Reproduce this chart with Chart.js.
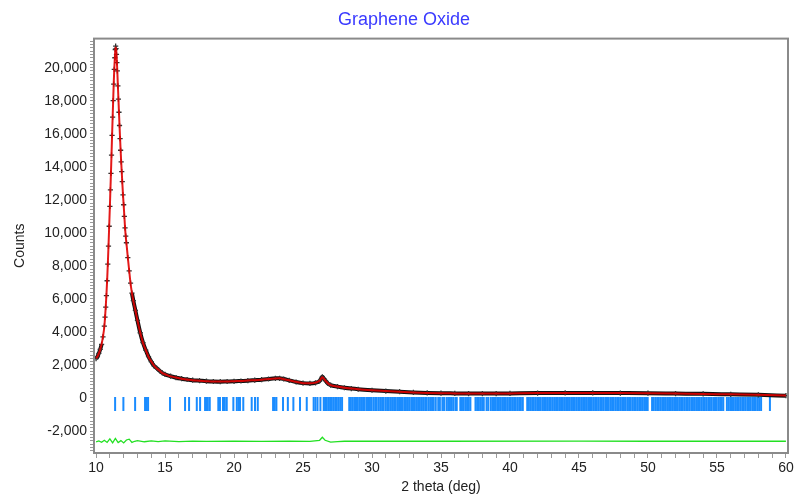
<!DOCTYPE html>
<html>
<head>
<meta charset="utf-8">
<script src="https://cdn.jsdelivr.net/npm/chart.js@4.4.1/dist/chart.umd.min.js"></script>
<style>
  body { margin: 0; background: #fff; }
  #wrap { width: 798px; height: 498px; }
</style>
</head>
<body>
<div id="wrap"><canvas id="xrd"></canvas></div>
<script>
// 2 theta grid shared by observed and calculated profiles
const twoTheta = [10.0, 10.1, 10.2, 10.3, 10.4, 10.5, 10.6, 10.65, 10.7, 10.75, 10.8, 10.85, 10.9, 10.95,
  11.0, 11.04, 11.08, 11.12, 11.16, 11.2, 11.24, 11.28, 11.32, 11.36, 11.39, 11.42, 11.45, 11.48, 11.51,
  11.54, 11.58, 11.62, 11.66, 11.7, 11.74, 11.78, 11.82, 11.86, 11.9, 11.95, 12.0, 12.05, 12.1, 12.15,
  12.2, 12.3, 12.4, 12.5, 12.6, 12.7, 12.85, 13.0, 13.2, 13.4, 13.6, 13.8, 14.0, 14.2, 14.4, 14.6, 14.8,
  15.0, 15.4, 15.8, 16.2, 16.6, 17.0, 17.5, 18.0, 18.5, 19.0, 19.5, 20.0, 20.5, 21.0, 21.5, 22.0, 22.5,
  23.0, 23.3, 23.6, 24.0, 24.5, 25.0, 25.5, 25.9, 26.2, 26.4, 26.55, 26.8, 27.0, 27.5, 28.0, 28.5, 29.0,
  30, 31, 32, 33, 34, 35, 36, 37, 38, 39, 40, 42, 44, 46, 48, 50, 52, 54, 56, 58, 60];

const obsCounts = [2380, 2500, 2700, 2950, 3250, 3700, 4350, 4900, 5500, 6200, 7100, 8100, 9200, 10400,
  11600, 12600, 13600, 14700, 15900, 17000, 18000, 19000, 19900, 20600, 21100, 21300, 21150, 20800, 20300,
  19800, 18900, 18100, 17300, 16500, 15700, 15000, 14300, 13700, 13100, 12300, 11700, 11000, 10300, 9800,
  9400, 8500, 7700, 6950, 6350, 5900, 5300, 4700, 3950, 3350, 2900, 2500, 2200, 1950, 1800, 1650, 1520,
  1430, 1320, 1230, 1170, 1120, 1080, 1050, 1020, 1000, 990, 1000, 1010, 1030, 1050, 1080, 1110, 1150,
  1190, 1190, 1150, 1070, 970, 900, 880, 920, 1030, 1280, 1130, 880, 780, 690, 620, 570, 530,
  470, 420, 380, 340, 310, 290, 280, 270, 270, 270, 280, 300, 310, 310, 300, 290, 270, 250, 220, 190, 140];

const calcCounts = [2400, 2520, 2690, 2940, 3260, 3720, 4330, 4880, 5520, 6230, 7080, 8080, 9180, 10380,
  11580, 12620, 13650, 14750, 15880, 16960, 18020, 19050, 19920, 20580, 21050, 21220, 21120, 20820, 20320,
  19780, 18920, 18120, 17280, 16480, 15720, 14980, 14320, 13680, 13080, 12320, 11680, 11020, 10320, 9780,
  9380, 8520, 7720, 6930, 6360, 5880, 5310, 4690, 3960, 3340, 2910, 2490, 2210, 1960, 1790, 1660, 1510,
  1440, 1310, 1240, 1160, 1120, 1070, 1050, 1020, 1000, 1000, 1000, 1020, 1030, 1060, 1080, 1110, 1150,
  1180, 1190, 1140, 1070, 980, 900, 890, 930, 1040, 1250, 1120, 890, 780, 690, 620, 570, 530,
  470, 420, 380, 340, 310, 290, 280, 270, 270, 270, 280, 300, 300, 300, 300, 290, 270, 240, 220, 190, 150];

// difference curve (obs - calc), drawn with its offset
const diffTheta = [10.0, 10.2, 10.4, 10.6, 10.8, 11.0, 11.2, 11.4, 11.6, 11.8, 12.0, 12.2, 12.4, 12.6,
  12.8, 13.0, 13.5, 14.0, 14.5, 15.0, 16.0, 17.0, 18.0, 20.0, 22.0, 24.0, 25.5, 26.2, 26.4, 26.6, 27.0,
  27.5, 28.0, 35.0, 45.0, 50.0, 60.0];
const diffCounts = [-2650, -2600, -2680, -2560, -2690, -2480, -2720, -2450, -2700, -2580, -2720, -2540,
  -2490, -2690, -2620, -2580, -2650, -2600, -2640, -2600, -2640, -2610, -2630, -2620, -2630, -2620, -2630,
  -2560, -2380, -2560, -2670, -2640, -2620, -2620, -2610, -2620, -2620];

// reflection positions (blue tick row)
const braggPos = [11.38, 11.98, 12.83, 13.55, 13.66, 13.77, 15.36, 16.45, 16.74, 17.30, 17.54, 17.9, 18.0,
  18.1, 18.24, 18.86, 18.98, 19.2, 19.33, 19.47, 19.95, 20.2, 20.32, 20.43, 20.67, 21.28, 21.52, 21.72,
  22.83, 22.95, 23.07, 23.55, 23.9, 24.3, 24.78, 25.27, 25.77, 25.9, 26.05, 26.26, 26.5, 26.6, 26.72,
  26.84, 26.96, 27.08, 27.2, 27.33, 27.45, 27.58, 27.7, 27.83, 28.35, 28.47, 28.6, 28.72, 28.84, 28.97,
  29.1, 29.21, 29.35, 29.46, 29.6, 29.71, 29.85, 29.96, 30.1, 30.23, 30.34, 30.48, 30.6, 30.73, 30.84,
  30.98, 31.1, 31.22, 31.36, 31.47, 31.6, 31.72, 31.85, 31.96, 32.1, 32.22, 32.35, 32.46, 32.6, 32.72,
  32.85, 32.97, 33.1, 33.22, 33.34, 33.47, 33.6, 33.71, 33.85, 33.96, 34.1, 34.22, 34.35, 34.47, 34.62,
  34.8, 34.92, 35.1, 35.22, 35.4, 35.52, 35.65, 35.78, 35.9, 36.05, 36.14, 36.4, 36.52, 36.64, 36.77,
  36.89, 37.01, 37.13, 37.5, 37.62, 37.74, 37.86, 37.98, 38.1, 38.3, 38.42, 38.6, 38.72, 38.84, 38.96,
  39.08, 39.2, 39.33, 39.45, 39.57, 39.69, 39.81, 39.94, 40.06, 40.18, 40.3, 40.42, 40.55, 40.67, 40.79,
  40.93, 41.25, 41.37, 41.49, 41.61, 41.73, 41.86, 41.98, 42.1, 42.22, 42.35, 42.47, 42.6, 42.72, 42.84,
  42.96, 43.09, 43.21, 43.34, 43.46, 43.58, 43.7, 43.83, 43.95, 44.07, 44.2, 44.32, 44.44, 44.57, 44.69,
  44.81, 44.94, 45.06, 45.18, 45.3, 45.43, 45.55, 45.67, 45.8, 45.92, 46.04, 46.17, 46.29, 46.41, 46.54,
  46.66, 46.78, 46.91, 47.03, 47.15, 47.28, 47.4, 47.52, 47.65, 47.77, 47.89, 48.02, 48.14, 48.26, 48.38,
  48.51, 48.63, 48.75, 48.88, 49.0, 49.12, 49.25, 49.37, 49.49, 49.62, 49.74, 49.86, 49.98, 50.3, 50.42,
  50.55, 50.67, 50.79, 50.92, 51.04, 51.16, 51.29, 51.41, 51.53, 51.66, 51.78, 51.9, 52.03, 52.15, 52.27,
  52.4, 52.52, 52.64, 52.77, 52.89, 53.01, 53.14, 53.26, 53.38, 53.5, 53.63, 53.75, 53.87, 54.0, 54.12,
  54.24, 54.37, 54.49, 54.61, 54.74, 54.86, 54.98, 55.11, 55.23, 55.35, 55.46, 55.72, 55.84, 55.96, 56.09,
  56.21, 56.33, 56.46, 56.58, 56.7, 56.83, 56.95, 57.07, 57.2, 57.32, 57.44, 57.57, 57.69, 57.81, 57.94,
  58.06, 58.2, 58.84];
const braggLevel = -370;

const toXY = (xs, ys) => xs.map((x, i) => ({ x: x, y: ys[i] }));

const frame = {
  id: 'frame',
  afterDraw(chart) {
    const a = chart.chartArea, ctx = chart.ctx;
    ctx.save();
    ctx.strokeStyle = '#8a8a8a';
    ctx.lineWidth = 2;
    ctx.strokeRect(a.left, a.top, a.right - a.left, a.bottom - a.top);
    ctx.restore();
  }
};

const font = { family: 'Arial, "Liberation Sans", sans-serif', size: 14 };

new Chart(document.getElementById('xrd'), {
  type: 'scatter',
  data: {
    datasets: [
      {
        label: 'Calc',
        data: toXY(twoTheta, calcCounts),
        showLine: true,
        borderColor: 'rgba(225,0,0,0.9)',
        borderWidth: 2,
        pointRadius: 0,
        cubicInterpolationMode: 'monotone'
      },
      {
        label: 'Obs',
        data: toXY(twoTheta, obsCounts),
        showLine: true,
        borderWidth: 4,
        borderColor: '#111',
        segment: {
          borderColor: ctx => (ctx.p0.parsed.x >= 10.4 && ctx.p1.parsed.x <= 12.6) ? 'rgba(0,0,0,0)' : '#111'
        },
        cubicInterpolationMode: 'monotone',
        pointStyle: 'cross',
        pointRadius: 2.6,
        pointBorderWidth: 1.3,
        pointBorderColor: '#333'
      },
      {
        label: 'Reflections',
        data: braggPos.map(x => ({ x: x, y: braggLevel })),
        pointStyle: 'line',
        rotation: 90,
        pointRadius: 7,
        pointBorderWidth: 2,
        pointBorderColor: '#1a8cff'
      },
      {
        label: 'Diff',
        data: toXY(diffTheta, diffCounts),
        showLine: true,
        borderColor: '#22e022',
        borderWidth: 1.3,
        pointRadius: 0
      }
    ]
  },
  options: {
    responsive: true,
    maintainAspectRatio: false,
    animation: false,
    layout: { padding: { left: 20, right: 10, top: 0, bottom: 0 } },
    scales: {
      x: {
        type: 'linear',
        min: 9.85,
        max: 60.15,
        afterFit: s => { s.height = 45; },
        border: { display: false },
        grid: { drawOnChartArea: false, drawTicks: true, tickLength: 5, color: '#9a9a9a' },
        ticks: {
          stepSize: 1,
          includeBounds: false,
          autoSkip: false,
          maxRotation: 0,
          padding: 2,
          color: '#222',
          font: font,
          callback: v => (Math.abs(v - Math.round(v / 5) * 5) < 1e-6) ? String(Math.round(v)) : ''
        },
        title: { display: true, text: '2 theta (deg)', color: '#222', font: font, padding: { top: 0, bottom: 2 } }
      },
      y: {
        min: -3330,
        max: 21760,
        afterFit: s => { s.width = 74; },
        border: { display: false },
        grid: { drawOnChartArea: false, drawTicks: true, tickLength: 4, color: '#9a9a9a' },
        ticks: {
          stepSize: 200,
          includeBounds: false,
          maxTicksLimit: 1000,
          autoSkip: false,
          padding: 3,
          color: '#222',
          font: font,
          callback: v => (Math.abs(v % 2000) < 1e-6) ? v.toLocaleString('en-US') : ''
        },
        title: { display: true, text: 'Counts', color: '#222', font: font, padding: { top: -8, bottom: 0 } }
      }
    },
    plugins: {
      legend: { display: false },
      tooltip: { enabled: false },
      title: {
        display: true,
        text: 'Graphene Oxide',
        color: '#3a3aff',
        font: { family: 'Arial, "Liberation Sans", sans-serif', size: 18, weight: 'normal' },
        padding: { top: 9, bottom: 8 }
      }
    }
  },
  plugins: [frame]
});
</script>
</body>
</html>
